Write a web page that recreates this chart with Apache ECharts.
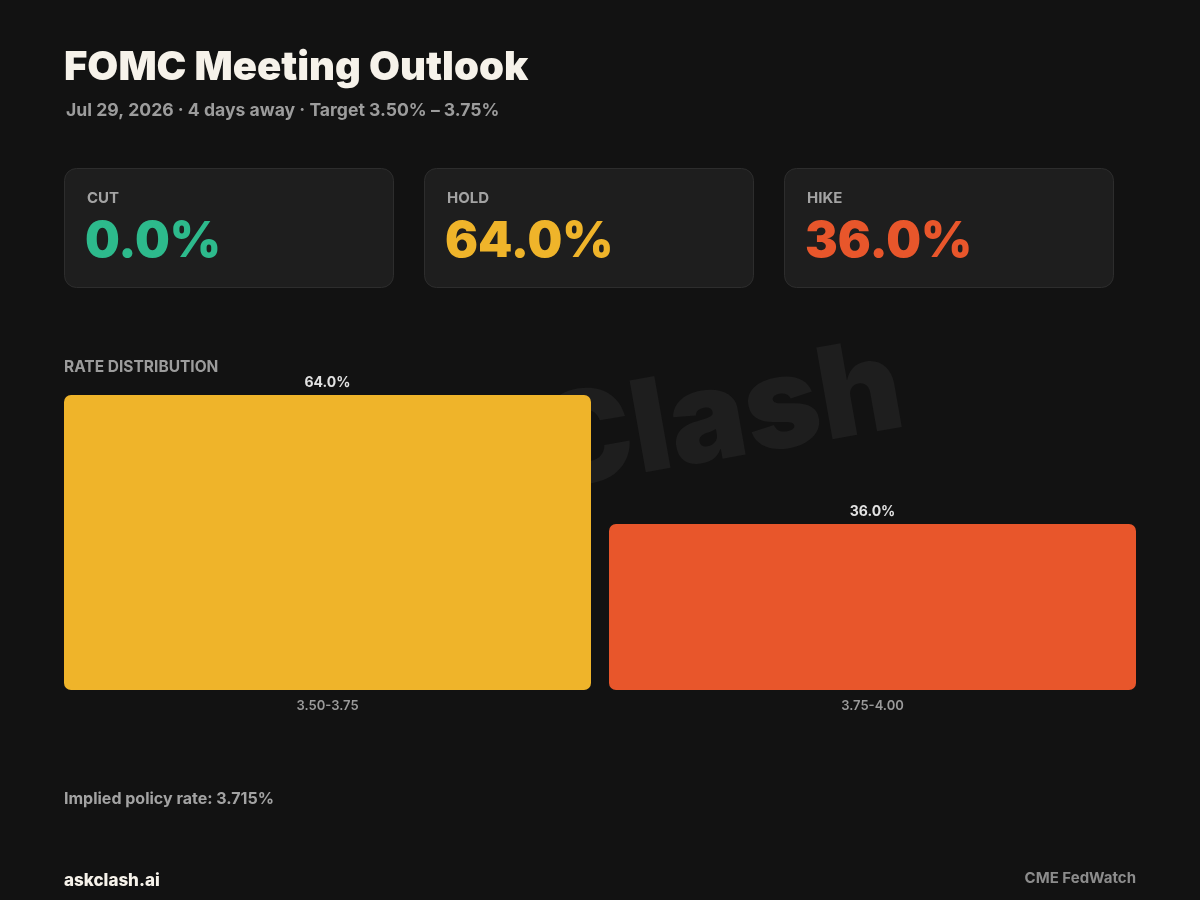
<!DOCTYPE html>
<html>
<head>
<meta charset="utf-8">
<script src="https://cdn.jsdelivr.net/npm/echarts@6/dist/echarts.min.js"></script>
<style>
html,body{margin:0;padding:0;background:#121212;}
#c{width:1200px;height:900px;}
</style>
</head>
<body>
<div id="c"></div>
<script>
var categories = ['3.50-3.75', '3.75-4.00'];
var probabilities = [64.0, 36.0];
var barColors = ['#EFB42A', '#E8562B'];
var cardLabels = ['CUT', 'HOLD', 'HIKE'];
var cardValues = [0.0, 64.0, 36.0];
var cardColors = ['#2DBA8C', '#EFB42A', '#E8562B'];
var titleText = 'FOMC Meeting Outlook';
var subtitleText = 'Jul 29, 2026 · 4 days away · Target 3.50% – 3.75%';
var impliedRate = 3.715;

var FONT = 'Inter, "Noto Sans", sans-serif';
var chart = echarts.init(document.getElementById('c'), null, {renderer: 'canvas'});

var graphics = [];
graphics.push({type:'text', z:10, x:64, y:68, style:{text:titleText, fill:'#F6F2EA', font:'900 40px ' + FONT, verticalAlign:'middle'}});
graphics.push({type:'text', z:10, x:66, y:111, style:{text:subtitleText, fill:'#9C9C9C', font:'700 17.6px ' + FONT, verticalAlign:'middle'}});

var cardX = [64, 424, 784];
for (var i = 0; i < cardLabels.length; i++) {
  graphics.push({type:'rect', z:5, shape:{x:cardX[i]+0.5, y:168.5, width:329, height:119, r:12},
    style:{fill:'#1E1E1E', stroke:'#2D2D2D', lineWidth:1}});
  graphics.push({type:'text', z:10, x:cardX[i]+23, y:198, style:{text:cardLabels[i], fill:'#A3A3A3', font:'700 15px ' + FONT, verticalAlign:'middle'}});
  graphics.push({type:'text', z:10, x:cardX[i]+21, y:242, style:{text:cardValues[i].toFixed(1) + '%', fill:cardColors[i], font:'900 49px ' + FONT, verticalAlign:'middle'}});
}

graphics.push({type:'text', z:10, x:64, y:367, style:{text:'RATE DISTRIBUTION', fill:'#9C9C9C', font:'700 15.5px ' + FONT, verticalAlign:'middle'}});
graphics.push({type:'text', z:-1, x:720, y:420, rotation:10*Math.PI/180, style:{text:'Clash', fill:'#1E1E1E', font:'900 128px ' + FONT, align:'center', verticalAlign:'middle'}});
graphics.push({type:'text', z:10, x:64, y:799, style:{text:'Implied policy rate: ' + impliedRate.toFixed(3) + '%', fill:'#A3A3A3', font:'700 16px ' + FONT, verticalAlign:'middle'}});
graphics.push({type:'text', z:10, x:64, y:881, style:{text:'askclash.ai', fill:'#F6F2EA', font:'800 17px ' + FONT, verticalAlign:'middle'}});
graphics.push({type:'text', z:10, x:1136, y:878, style:{text:'CME FedWatch', fill:'#8C8C8C', font:'700 15px ' + FONT, align:'right', verticalAlign:'middle'}});

chart.setOption({
  backgroundColor: '#121212',
  animation: false,
  graphic: graphics,
  grid: {left: 55, right: 55, top: 229, bottom: 210, containLabel: false},
  xAxis: {
    type: 'category',
    data: categories,
    axisLine: {show: false},
    axisTick: {show: false},
    axisLabel: {color: '#9A9A9A', fontFamily: FONT, fontWeight: 600, fontSize: 13, margin: 10}
  },
  yAxis: {type: 'value', min: 0, max: 100, show: false, splitLine: {show: false}},
  series: [{
    type: 'bar',
    z: 2,
    barWidth: 527,
    data: probabilities.map(function (v, i) { return {value: v, itemStyle: {color: barColors[i]}}; }),
    itemStyle: {borderRadius: 7},
    label: {
      show: true, position: 'top', distance: 5,
      formatter: function (p) { return p.value.toFixed(1) + '%'; },
      color: '#E2E2E2', fontFamily: FONT, fontWeight: 700, fontSize: 14
    }
  }]
});
</script>
</body>
</html>
